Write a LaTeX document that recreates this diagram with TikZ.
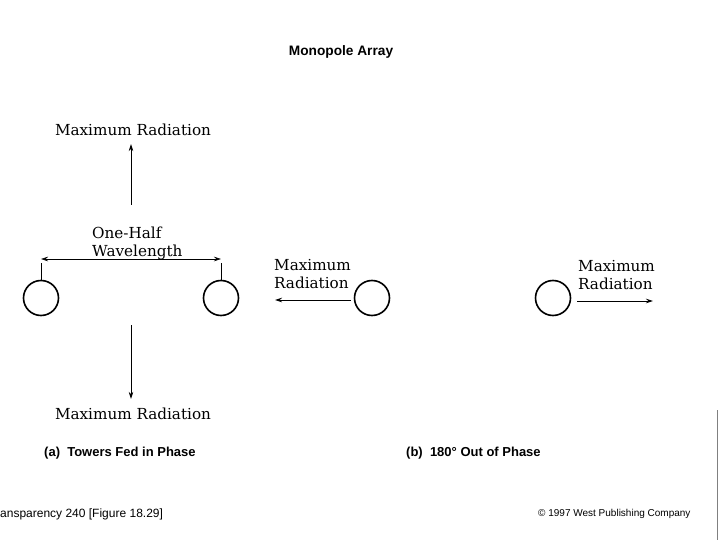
\documentclass[tikz,border=0pt]{standalone}
\usepackage{fontspec}
\setsansfont{Liberation Sans}
\newfontfamily\labelfont{DejaVu Serif}
\usetikzlibrary{
  arrows.meta,  % Stealth arrow tips
  positioning   % relative placement of nodes
}

\begin{document}
\begin{tikzpicture}[x=1pt, y=-1pt, >={Stealth[length=7pt, width=4.5pt]},
    tower/.style={draw, circle, line width=1.6pt, minimum size=35pt, inner sep=0pt},
    radlabel/.style={font=\labelfont\fontsize{15.2}{18}\selectfont, inner sep=0pt, align=left},
    capt/.style={font=\sffamily\bfseries\fontsize{13}{15}\selectfont, inner sep=0pt, anchor=west},
    foot/.style={font=\sffamily\fontsize{10}{12}\selectfont, inner sep=0pt, anchor=west},
    ray/.style={->, line width=0.8pt}]
    \useasboundingbox (0,0) rectangle (720,540);
    % tower row height
    \def\towerY{298}

    % --- title ---
    \node[font=\sffamily\bfseries\fontsize{13.7}{16}\selectfont, inner sep=0pt] (title) at (341,52) {Monopole Array};

    % --- (a) towers fed in phase ---
    \node[tower] (ta) at (41,\towerY) {};
    \node[tower] (tb) at (221,\towerY) {};
    % spacing marks
    \coordinate (ka) at (41,263);
    \coordinate (kb) at (221,263);
    \draw[line width=0.8pt] (ta.north) -- (ka);
    \draw[line width=0.8pt] (tb.north) -- (kb);
    \draw[<->, line width=0.6pt] ([yshift=4pt]ka) -- ([yshift=4pt]kb);
    \node[radlabel, anchor=west] (half) at (92,243) {One-Half\\Wavelength};
    % broadside radiation
    \coordinate (upa) at (131,205);
    \coordinate (dna) at (131,325);
    \node[radlabel] (maxup) at (133,130) {Maximum Radiation};
    \node[radlabel] (maxdn) at (133,414) {Maximum Radiation};
    \draw[ray] (upa) -- ([yshift=-8pt]maxup.south -| upa);
    \draw[ray] (dna) -- ([yshift=9pt]maxdn.north -| dna);
    \node[capt] (capa) at (44,453) {(a)\ \ Towers Fed in Phase};

    % --- (b) 180 degrees out of phase ---
    \node[tower] (tc) at (372,\towerY) {};
    \node[tower] (td) at (553,\towerY) {};
    \node[radlabel, anchor=west] (maxl) at (274,274) {Maximum\\Radiation};
    \node[radlabel, anchor=west] (maxr) at (578,275) {Maximum\\Radiation};
    \coordinate (endl) at (275,300);
    \coordinate (endr) at (653,301);
    \draw[ray] ([xshift=-3pt]tc.west |- endl) -- (endl);
    \draw[ray] ([xshift=6pt]td.east |- endr) -- (endr);
    \node[capt] (capb) at (406,453) {(b)\ \ 180\textdegree\ Out of Phase};

    % --- footer ---
    \node[foot, font=\sffamily\fontsize{12}{14}\selectfont] (src) at (0,514) {ansparency 240 [Figure 18.29]};
    \node[foot] (copy) at (538,514) {\textcopyright\ 1997 West Publishing Company};
    \coordinate (edgea) at (717,410);
    \coordinate (edgeb) at (717,540);
    \draw[gray, line width=0.7pt] (edgea) -- (edgeb);
\end{tikzpicture}
\end{document}
